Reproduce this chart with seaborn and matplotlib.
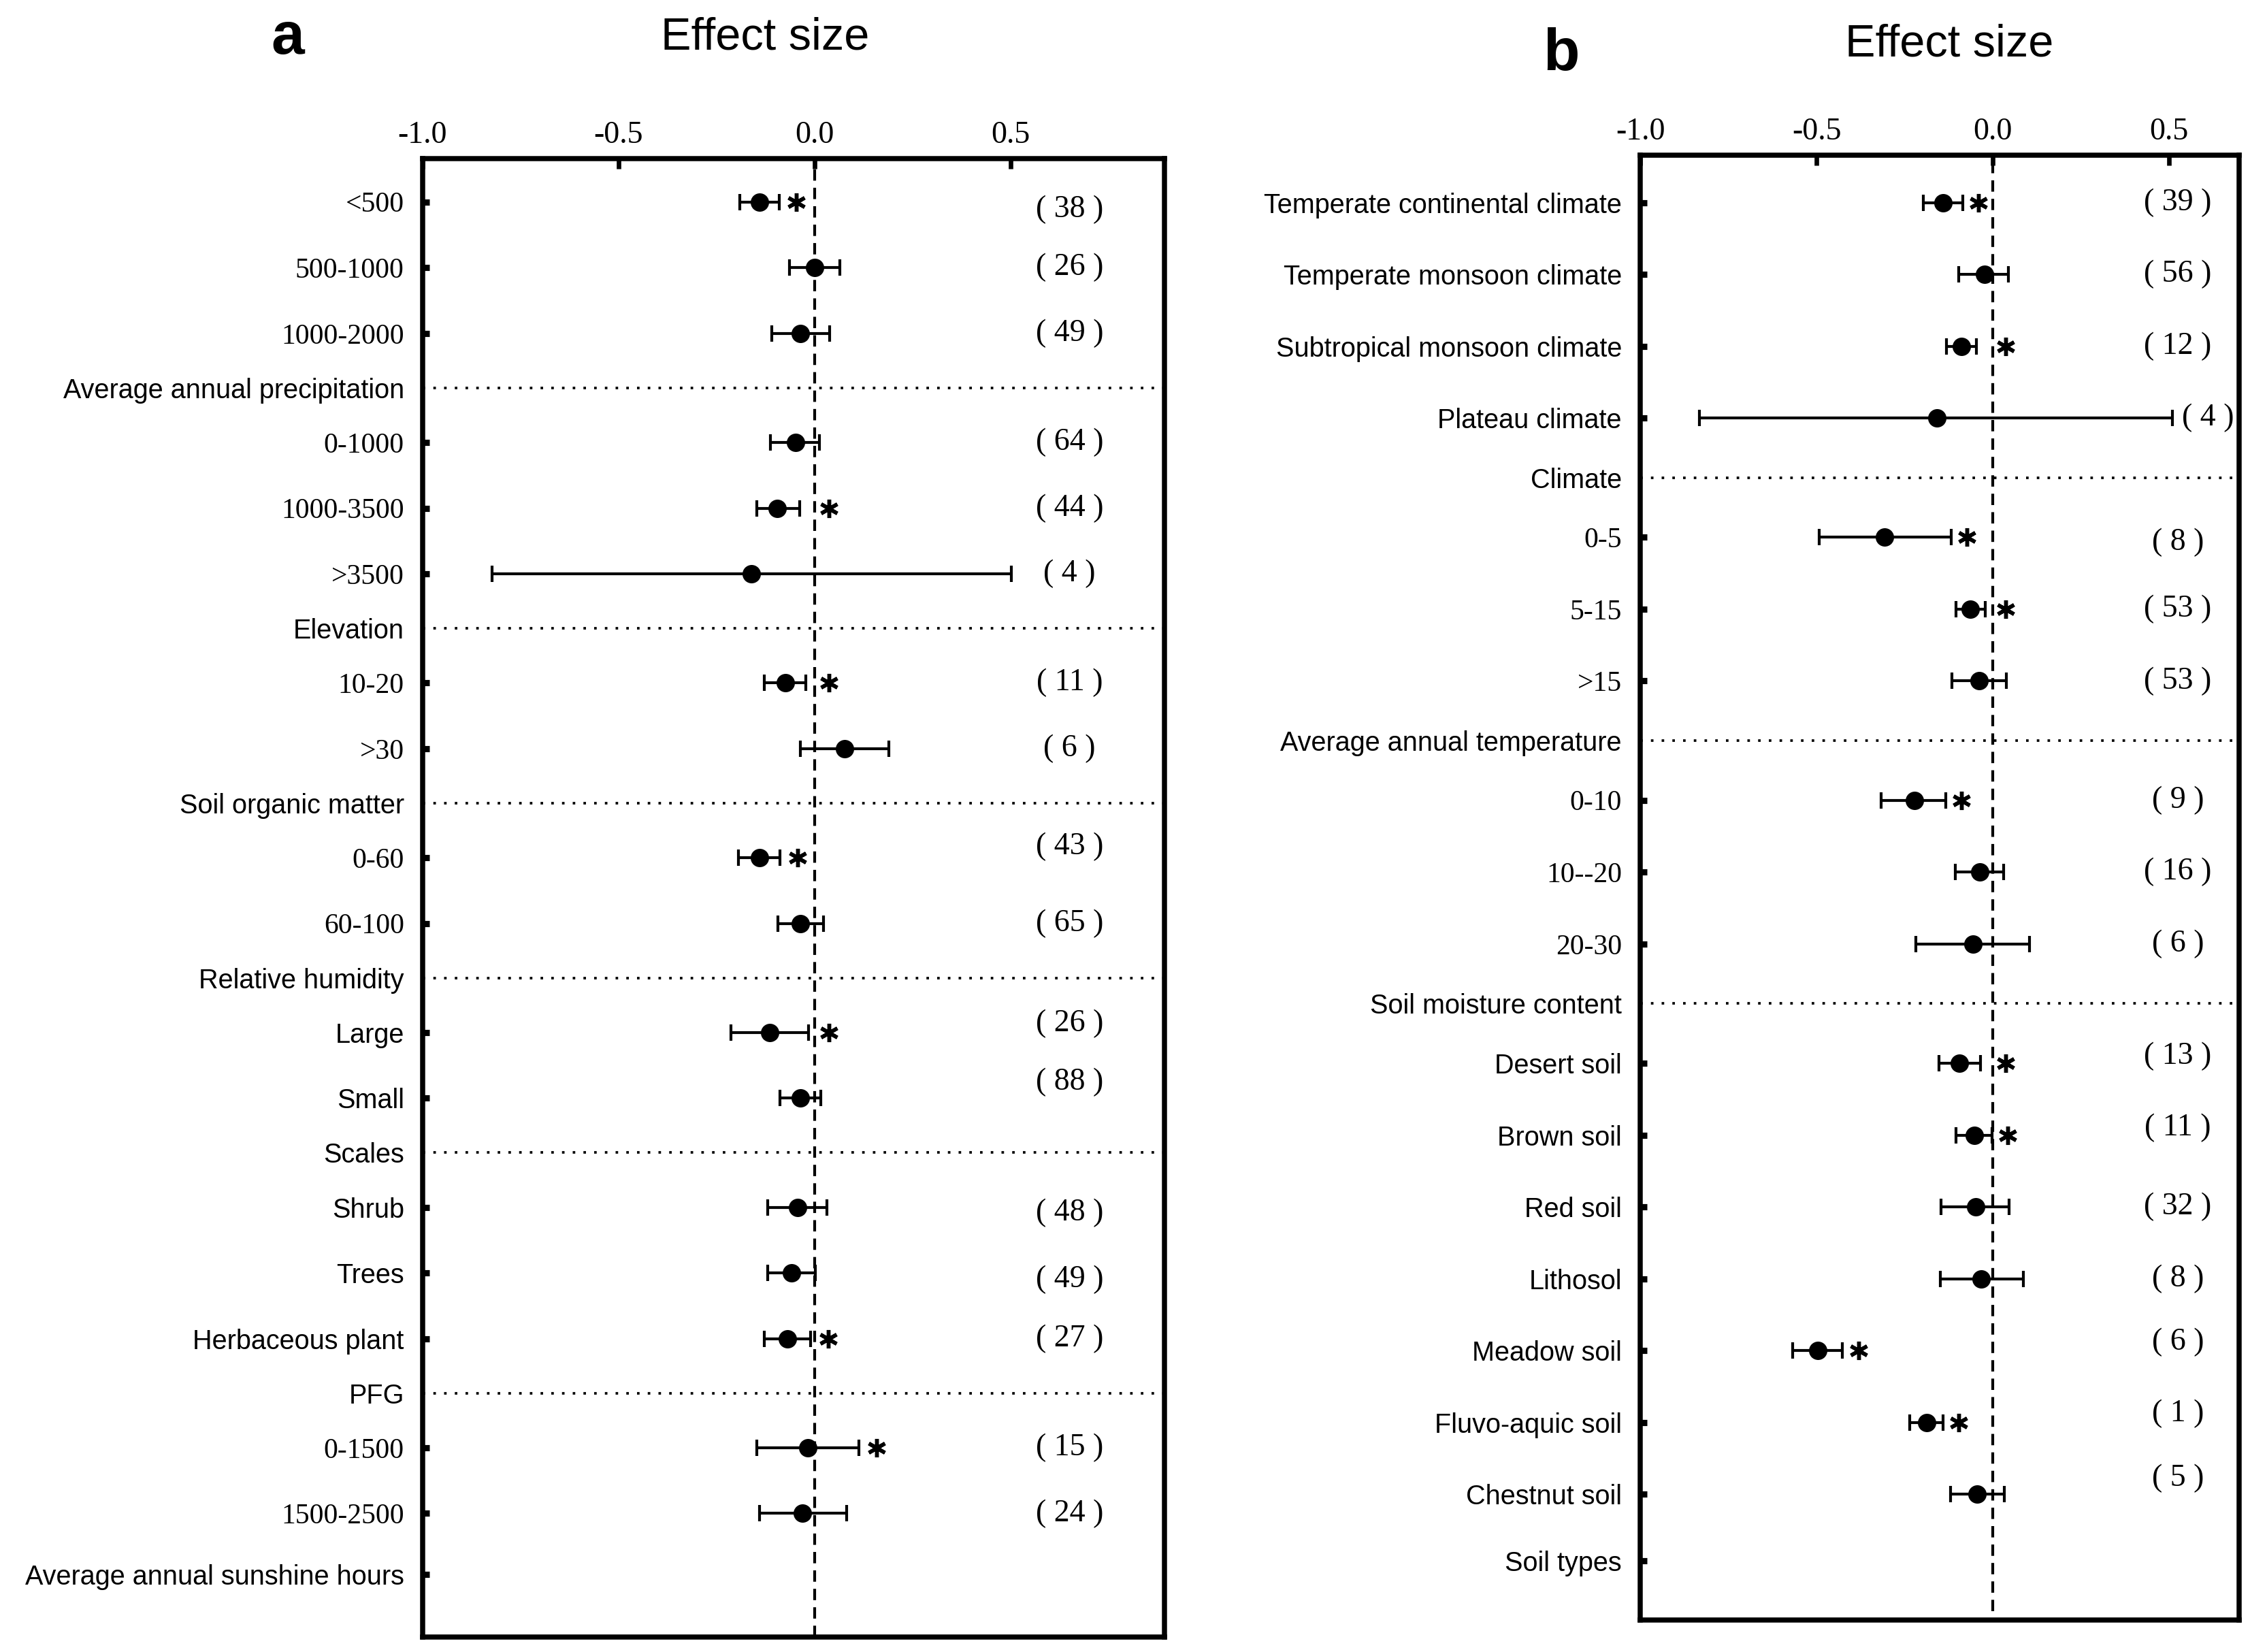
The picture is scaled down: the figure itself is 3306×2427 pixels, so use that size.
import matplotlib
matplotlib.use("Agg")
import matplotlib.pyplot as plt
import pandas as pd
import seaborn as sns

# ---- panel a data ----
a_groups = ['Average annual precipitation', 'Elevation', 'Soil organic matter',
            'Relative humidity', 'Scales', 'PFG', 'Average annual sunshine hours']
a_rows = [['<500', '500-1000', '1000-2000'],
          ['0-1000', '1000-3500', '>3500'],
          ['10-20', '>30'],
          ['0-60', '60-100'],
          ['Large', 'Small'],
          ['Shrub', 'Trees', 'Herbaceous plant'],
          ['0-1500', '1500-2500']]
a_mean = [-0.141, 0.000, -0.037, -0.049, -0.096, -0.162, -0.075, 0.076, -0.141,
          -0.037, -0.115, -0.037, -0.044, -0.059, -0.069, -0.017, -0.031]
a_low = [-0.191, -0.064, -0.110, -0.112, -0.148, -0.822, -0.129, -0.037, -0.194,
         -0.094, -0.214, -0.089, -0.119, -0.120, -0.129, -0.148, -0.140]
a_high = [-0.091, 0.064, 0.039, 0.012, -0.039, 0.502, -0.022, 0.189, -0.089,
          0.022, -0.016, 0.015, 0.031, 0.002, -0.010, 0.113, 0.081]
a_n = [38, 26, 49, 64, 44, 4, 11, 6, 43, 65, 26, 88, 48, 49, 27, 15, 24]
a_sig = [1, 0, 0, 0, 1, 0, 1, 0, 1, 0, 1, 0, 0, 0, 1, 1, 0]

# ---- panel b data ----
b_groups = ['Climate', 'Average annual temperature', 'Soil moisture content', 'Soil types']
b_rows = [['Temperate continental climate', 'Temperate monsoon climate',
           'Subtropical monsoon climate', 'Plateau climate'],
          ['0-5', '5-15', '>15'],
          ['0-10', '10--20', '20-30'],
          ['Desert soil', 'Brown soil', 'Red soil', 'Lithosol', 'Meadow soil',
           'Fluvo-aquic soil', 'Chestnut soil']]
b_mean = [-0.142, -0.024, -0.088, -0.159, -0.307, -0.064, -0.038, -0.223, -0.037,
          -0.057, -0.094, -0.052, -0.048, -0.032, -0.496, -0.187, -0.044]
b_low = [-0.197, -0.096, -0.131, -0.832, -0.493, -0.104, -0.116, -0.317, -0.107,
         -0.219, -0.152, -0.104, -0.147, -0.149, -0.567, -0.236, -0.120]
b_high = [-0.086, 0.045, -0.046, 0.510, -0.118, -0.021, 0.039, -0.133, 0.030,
          0.105, -0.034, -0.003, 0.046, 0.087, -0.426, -0.141, 0.032]
b_n = [39, 56, 12, 4, 8, 53, 53, 9, 16, 6, 13, 11, 32, 8, 6, 1, 5]
b_sig = [1, 0, 1, 0, 1, 1, 0, 1, 0, 0, 1, 1, 0, 0, 1, 1, 0]

x_ticks = [-1.0, -0.5, 0.0, 0.5]
x_ticklabels = ['-1.0', '-0.5', '0.0', '0.5']

# small vertical nudges of some "(n)" labels, as in the original figure
a_nudge = {'<500': 0.12, '0-60': -0.17, 'Large': -0.13, 'Small': -0.24,
           'Shrub': 0.08, 'Trees': 0.1}
b_nudge = {'0-5': 0.07, 'Desert soil': -0.1, 'Brown soil': -0.1,
           'Meadow soil': -0.12, 'Fluvo-aquic soil': -0.12, 'Chestnut soil': -0.22}

GAP = 0.83
END_GAP = 0.93


def layout(groups, rows):
    ticks, labels, header, data_y, names = [], [], [], [], []
    y = 0.0
    for gi, (head, members) in enumerate(zip(groups, rows)):
        for m in members:
            data_y.append(y)
            names.append(m)
            ticks.append(y)
            labels.append(m)
            header.append(False)
            y += 1
        last = gi == len(groups) - 1
        hy = y - 1 + (END_GAP if last else GAP)
        ticks.append(hy)
        labels.append(head)
        header.append(not last)
        y = hy + GAP
    return ticks, labels, header, data_y, names


def draw_panel(ax, groups, rows, mean, low, high, n, sig, nudge,
               xlim, ylim, n_x, dash_ymin):
    ticks, labels, header, data_y, names = layout(groups, rows)
    df = pd.DataFrame({'label': names, 'y': data_y, 'mean': mean,
                       'low': low, 'high': high, 'n': n, 'sig': sig})

    ax.axvline(0, ymin=dash_ymin, color='black', lw=1.0,
               linestyle=(0, (4, 2.5)), zorder=1)
    for t, h in zip(ticks, header):
        if h:
            ax.axhline(t, color='black', lw=0.9, linestyle=(0, (1, 3.2)), zorder=1)

    ax.errorbar(df['mean'], df['y'],
                xerr=[df['mean'] - df['low'], df['high'] - df['mean']],
                fmt='none', ecolor='black', elinewidth=1.0, capsize=2.8,
                capthick=1.0, zorder=2)
    sns.scatterplot(data=df, x='mean', y='y', ax=ax, color='black', s=42,
                    edgecolor='black', linewidth=0, zorder=3, legend=False)

    # significance stars, kept clear of the zero line
    s = df[df['sig'] == 1]
    sx = s['high'] + 0.045
    sx = sx.where(sx.abs() > 0.03, 0.036)
    ax.plot(sx, s['y'], linestyle='none', marker=(6, 2, 0), ms=6.5, mew=1.3,
            color='black', zorder=3)

    for _, r in df.iterrows():
        ax.text(max(n_x, r['high'] + 0.1), r['y'] + nudge.get(r['label'], 0),
                f"( {r['n']} )", ha='center', va='center', color='black',
                family='Liberation Serif', fontsize=11)

    ax.set_xlim(*xlim)
    ax.set_ylim(*ylim)
    ax.set_xlabel('')
    ax.set_ylabel('')

    ax.xaxis.tick_top()
    ax.set_xticks(x_ticks)
    ax.set_xticklabels(x_ticklabels, family='Liberation Serif', fontsize=11)
    ax.tick_params(axis='x', top=True, bottom=False, direction='in',
                   length=3.5, width=1.6, pad=3, colors='black')

    ax.set_yticks(ticks)
    ax.set_yticklabels(labels)
    ax.tick_params(axis='y', left=True, direction='in', length=2.5, width=2.2,
                   pad=6.5, colors='black')
    for lab in ax.get_yticklabels():
        if lab.get_text()[0] in '0123456789<>':
            lab.set_family('Liberation Serif')
            lab.set_fontsize(10)
        else:
            lab.set_family('Liberation Sans')
            lab.set_fontsize(9.5)
    for tk, h in zip(ax.yaxis.get_major_ticks(), header):
        tk.tick1line.set_visible(not h)

    for side in ['top', 'bottom', 'left', 'right']:
        ax.spines[side].set_visible(True)
        ax.spines[side].set_color('black')
        ax.spines[side].set_linewidth(1.8)


sns.set_theme(style='white')
plt.rcParams['font.family'] = ['Liberation Sans', 'DejaVu Sans']
plt.rcParams['text.color'] = 'black'
plt.rcParams['axes.labelcolor'] = 'black'
plt.rcParams['xtick.color'] = 'black'
plt.rcParams['ytick.color'] = 'black'

fig = plt.figure(figsize=(3306 / 300, 2427 / 300), dpi=300)
ax_a = fig.add_axes([0.1878, 0.0091, 0.3297, 0.8949])
ax_b = fig.add_axes([0.7290, 0.0194, 0.2662, 0.8867])

draw_panel(ax_a, a_groups, a_rows, a_mean, a_low, a_high, a_n, a_sig, a_nudge,
           xlim=(-1.0, 0.892), ylim=(21.84, -0.66), n_x=0.65, dash_ymin=0.0)
draw_panel(ax_b, b_groups, b_rows, b_mean, b_low, b_high, b_n, b_sig, b_nudge,
           xlim=(-1.0, 0.699), ylim=(19.73, -0.66), n_x=0.525, dash_ymin=0.006)

fig.text(0.128, 0.9674, 'a', fontsize=21, fontweight='bold', ha='center', va='baseline')
fig.text(0.694, 0.9576, 'b', fontsize=21, fontweight='bold', ha='center', va='baseline')
fig.text(0.340, 0.9700, 'Effect size', fontsize=16, ha='center', va='baseline')
fig.text(0.8665, 0.9660, 'Effect size', fontsize=16, ha='center', va='baseline')

fig.savefig('out.png', dpi=300, facecolor='white')
